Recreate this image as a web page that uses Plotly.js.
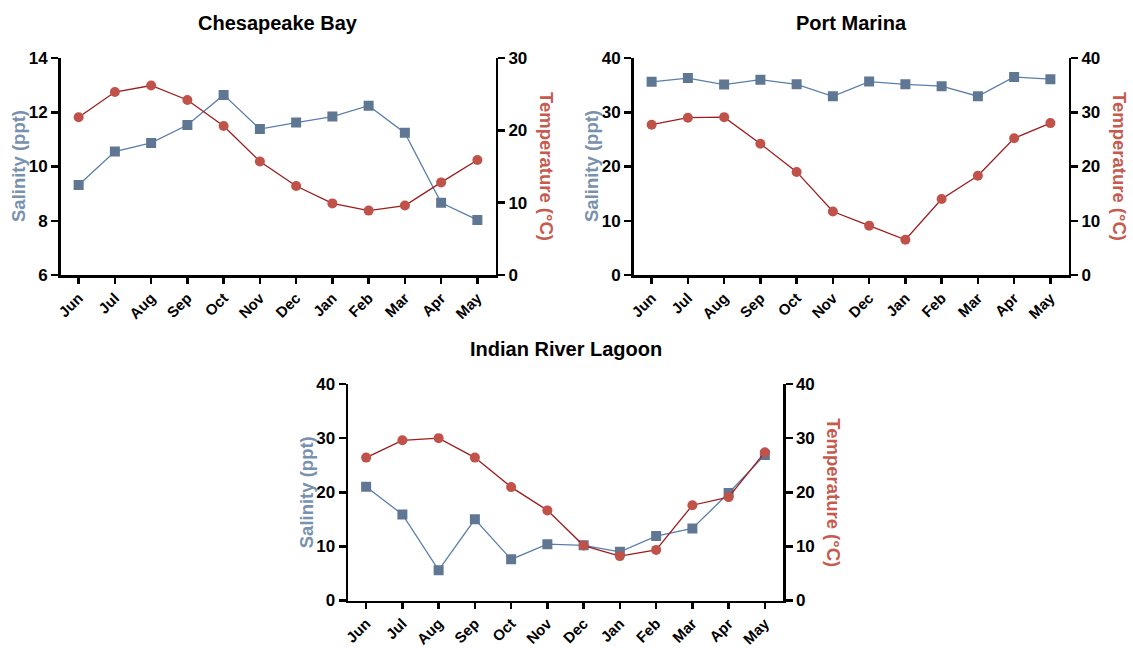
<!DOCTYPE html>
<html>
<head>
<meta charset="utf-8">
<script src="https://cdn.plot.ly/plotly-3.0.1.min.js"></script>
<style>html,body{margin:0;padding:0;background:#fff;}#chart{width:1133px;height:648px;}</style>
</head>
<body>
<div id="chart"></div>
<script>
const months = ["Jun","Jul","Aug","Sep","Oct","Nov","Dec","Jan","Feb","Mar","Apr","May"];

const chesapeakeSalinity = [9.32, 10.55, 10.87, 11.53, 12.64, 11.38, 11.62, 11.84, 12.24, 11.24, 8.66, 8.03];
const chesapeakeTemp     = [21.8, 25.3, 26.2, 24.2, 20.6, 15.7, 12.3, 9.9, 8.9, 9.6, 12.8, 15.9];

const portMarinaSalinity = [35.6, 36.3, 35.1, 36.0, 35.15, 32.95, 35.65, 35.15, 34.8, 32.95, 36.5, 36.1];
const portMarinaTemp     = [27.7, 29.0, 29.1, 24.2, 19.0, 11.7, 9.1, 6.5, 14.0, 18.3, 25.2, 28.0];

const indianRiverSalinity = [21.0, 15.9, 5.6, 15.0, 7.6, 10.4, 10.2, 9.0, 11.9, 13.3, 19.85, 26.9];
const indianRiverTemp     = [26.4, 29.6, 30.0, 26.4, 20.95, 16.65, 10.15, 8.2, 9.35, 17.6, 19.1, 27.4];

const panelTitles = ["Chesapeake Bay", "Port Marina", "Indian River Lagoon"];
const salTitle = "Salinity (ppt)";
const tempTitle = "Temperature (°C)";

const salMarker = "#5f7793", salLine = "#5a7eac";
const tempMarker = "#c1524a", tempLine = "#9e1c1c";
const salTitleColor = "#7891ad", tempTitleColor = "#c65a4e";
const FONT = "'Liberation Sans', Arial, sans-serif";

const W = 1133, H = 648;
const panels = [
  {sal: chesapeakeSalinity, temp: chesapeakeTemp, left: 60.5, right: 495.5, top: 58, bottom: 275, yRange: [6, 14], yTicks: [6,8,10,12,14], y2Range: [0,30], y2Ticks: [0,10,20,30]},
  {sal: portMarinaSalinity, temp: portMarinaTemp, left: 633.5, right: 1068.5, top: 58, bottom: 275, yRange: [0, 40], yTicks: [0,10,20,30,40], y2Range: [0,40], y2Ticks: [0,10,20,30,40]},
  {sal: indianRiverSalinity, temp: indianRiverTemp, left: 348, right: 783, top: 384, bottom: 600.5, yRange: [0, 40], yTicks: [0,10,20,30,40], y2Range: [0,40], y2Ticks: [0,10,20,30,40]}
];

const data = [];
const layout = {
  width: W, height: H,
  margin: {l: 0, r: 0, t: 0, b: 0},
  paper_bgcolor: "#fff", plot_bgcolor: "rgba(0,0,0,0)",
  showlegend: false,
  font: {family: FONT, color: "#000"},
  annotations: []
};

const tickFont = {family: FONT, size: 17, color: "#000", weight: "bold"};
const xTickFont = {family: FONT, size: 15, color: "#000", weight: "bold"};

panels.forEach((p, i) => {
  const xa = i === 0 ? "x" : "x" + (i + 1);
  const ya = i === 0 ? "y" : "y" + (2 * i + 1);
  const yb = "y" + (2 * i + 2);
  const xKey = i === 0 ? "xaxis" : "xaxis" + (i + 1);
  const yKey = i === 0 ? "yaxis" : "yaxis" + (2 * i + 1);
  const y2Key = "yaxis" + (2 * i + 2);
  const xd = [p.left / W, p.right / W];
  const yd = [1 - p.bottom / H, 1 - p.top / H];

  data.push({x: months.map((m, k) => k), y: p.sal, xaxis: xa, yaxis: ya, type: "scatter", mode: "lines+markers",
    line: {color: salLine, width: 1.3}, marker: {symbol: "square", size: 10, color: salMarker}, hoverinfo: "skip"});
  data.push({x: months.map((m, k) => k), y: p.temp, xaxis: xa, yaxis: yb, type: "scatter", mode: "lines+markers",
    line: {color: tempLine, width: 1.3}, marker: {symbol: "circle", size: 10, color: tempMarker}, hoverinfo: "skip"});

  layout[xKey] = {domain: xd, anchor: ya, range: [-0.5, 11.5], tickmode: "array", tickvals: months.map((m, k) => k), ticktext: months,
    tickangle: -45, ticks: "outside", ticklen: 6, tickwidth: 2.5, tickcolor: "#000", showline: true, linewidth: 2.5, linecolor: "#000",
    showgrid: false, zeroline: false, tickfont: xTickFont, fixedrange: true};
  layout[yKey] = {domain: yd, anchor: xa, range: p.yRange, tickmode: "array", tickvals: p.yTicks, ticks: "outside", ticklen: 7, tickwidth: 2.5,
    tickcolor: "#000", showline: true, linewidth: 2.5, linecolor: "#000", showgrid: false, zeroline: false, tickfont: tickFont, fixedrange: true};
  layout[y2Key] = {domain: yd, anchor: xa, overlaying: ya, side: "right", range: p.y2Range, tickmode: "array", tickvals: p.y2Ticks, ticks: "outside", ticklen: 7, tickwidth: 2.5,
    tickcolor: "#000", showline: true, linewidth: 2.5, linecolor: "#000", showgrid: false, zeroline: false, tickfont: tickFont, fixedrange: true};

  const cy = 1 - ((p.top + p.bottom) / 2) / H;
  layout.annotations.push({text: "<b>" + panelTitles[i] + "</b>", xref: "paper", yref: "paper", x: ((p.left + p.right) / 2) / W, y: 1 - (p.top - 35) / H,
    xanchor: "center", yanchor: "middle", showarrow: false, font: {family: FONT, size: 20, color: "#000"}});
  layout.annotations.push({text: "<b>" + salTitle + "</b>", xref: "paper", yref: "paper", x: (p.left - 42) / W, y: cy,
    xanchor: "center", yanchor: "middle", textangle: -90, showarrow: false, font: {family: FONT, size: 18.5, color: salTitleColor}});
  layout.annotations.push({text: "<b>" + tempTitle + "</b>", xref: "paper", yref: "paper", x: (p.right + 51) / W, y: cy,
    xanchor: "center", yanchor: "middle", textangle: 90, showarrow: false, font: {family: FONT, size: 18.5, color: tempTitleColor}});
});

Plotly.newPlot("chart", data, layout, {displayModeBar: false, staticPlot: true});
</script>
</body>
</html>
